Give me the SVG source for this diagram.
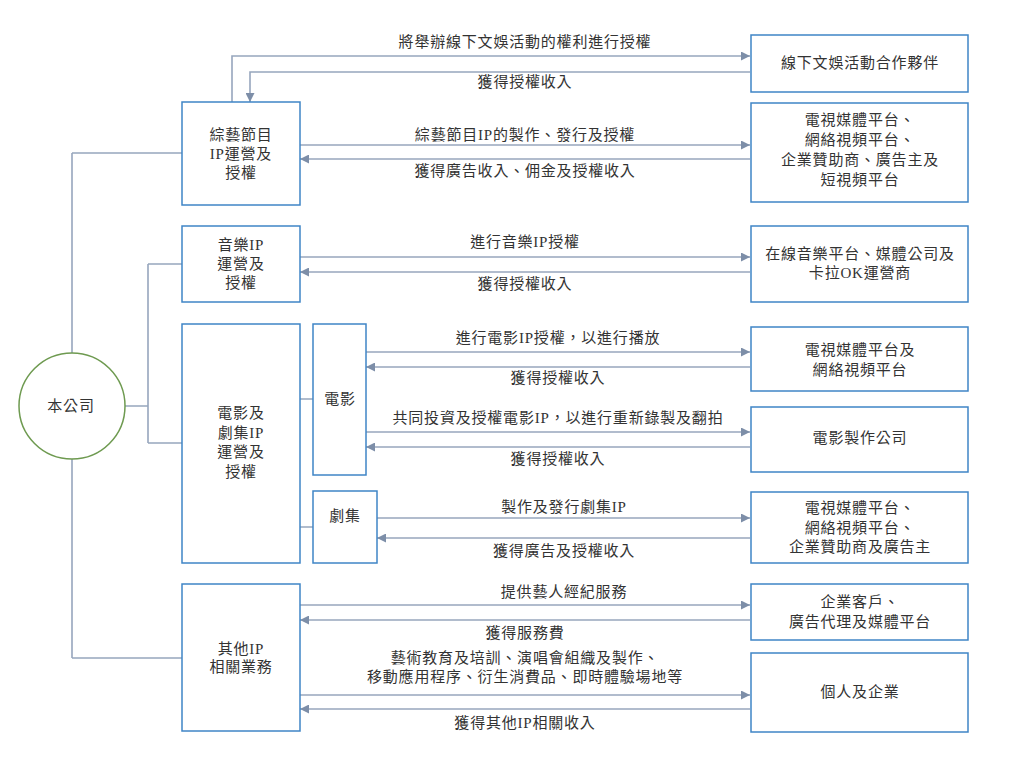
<svg xmlns="http://www.w3.org/2000/svg" width="1023" height="772" viewBox="0 0 1023 772">
<style>
.box{fill:#fff;stroke:#3f85c6;stroke-width:1.5}
.ln{fill:none;stroke:#97a6bd;stroke-width:1.6}
.ar{fill:none;stroke:#97a6bd;stroke-width:1.6;marker-end:url(#ah)}
text{font-family:"Liberation Serif","Noto Sans CJK TC",serif;font-size:15px;fill:#333;text-anchor:middle;dominant-baseline:central;letter-spacing:0.8px}
</style>
<defs>
<marker id="ah" viewBox="0 0 10 10" refX="10" refY="5" markerWidth="9" markerHeight="9" markerUnits="userSpaceOnUse" orient="auto">
<path d="M0,0 L10,5 L0,10 z" fill="#7d8ea8"/>
</marker>
</defs>
<rect width="1023" height="772" fill="#fff"/>

<g id="connectors">
<path class="ln" d="M72,153 V353 M72,459 V658 M72,153 H182 M72,658 H182 M125,406 H148 M148,264 V443 M148,264 H182 M148,443 H182 M300,399 H313 M300,527 H313"/>
<path class="ar" d="M232,102 V56 H750"/>
<path class="ar" d="M750,72 H250 V102"/>
<path class="ar" d="M300,145 H750"/>
<path class="ar" d="M750,159 H300"/>
<path class="ar" d="M300,257 H750"/>
<path class="ar" d="M750,272 H300"/>
<path class="ar" d="M366,352 H750"/>
<path class="ar" d="M750,367 H366"/>
<path class="ar" d="M366,432 H750"/>
<path class="ar" d="M750,447 H366"/>
<path class="ar" d="M377,518 H750"/>
<path class="ar" d="M750,538 H377"/>
<path class="ar" d="M300,605 H750"/>
<path class="ar" d="M750,620 H300"/>
<path class="ar" d="M300,695 H750"/>
<path class="ar" d="M750,709 H300"/>
<text x="525" y="42">將舉辦線下文娛活動的權利進行授權</text>
<text x="525" y="82">獲得授權收入</text>
<text x="525" y="135">綜藝節目IP的製作、發行及授權</text>
<text x="525" y="171">獲得廣告收入、佣金及授權收入</text>
<text x="525" y="242">進行音樂IP授權</text>
<text x="525" y="284">獲得授權收入</text>
<text x="558" y="338">進行電影IP授權，以進行播放</text>
<text x="558" y="378">獲得授權收入</text>
<text x="558" y="418">共同投資及授權電影IP，以進行重新錄製及翻拍</text>
<text x="558" y="459">獲得授權收入</text>
<text x="564" y="507">製作及發行劇集IP</text>
<text x="564" y="551">獲得廣告及授權收入</text>
<text x="564" y="592">提供藝人經紀服務</text>
<text x="525" y="633">獲得服務費</text>
<text x="525" y="658">藝術教育及培訓、演唱會組織及製作、</text>
<text x="525" y="677">移動應用程序、衍生消費品、即時體驗場地等</text>
<text x="525" y="723">獲得其他IP相關收入</text>
</g>

<g id="company">
<circle cx="72" cy="406" r="53" fill="#fff" stroke="#6e9a50" stroke-width="1.5"/>
<text x="71" y="406">本公司</text>
</g>

<g id="variety">
<rect class="box" x="182" y="102" width="118" height="103"/>
<text x="241" y="135">綜藝節目</text>
<text x="241" y="154">IP運營及</text>
<text x="241" y="173">授權</text>
</g>

<g id="music">
<rect class="box" x="182" y="226" width="118" height="76"/>
<text x="241" y="245">音樂IP</text>
<text x="241" y="264">運營及</text>
<text x="241" y="283">授權</text>
</g>

<g id="filmdrama">
<rect class="box" x="182" y="324" width="118" height="239"/>
<text x="241" y="413">電影及</text>
<text x="241" y="433">劇集IP</text>
<text x="241" y="452">運營及</text>
<text x="241" y="472">授權</text>
</g>

<g id="film">
<rect class="box" x="313" y="324" width="53" height="151"/>
<text x="340" y="399">電影</text>
</g>

<g id="drama">
<rect class="box" x="313" y="491" width="64" height="72"/>
<text x="345" y="516">劇集</text>
</g>

<g id="other">
<rect class="box" x="182" y="584" width="118" height="147"/>
<text x="241" y="649">其他IP</text>
<text x="241" y="667">相關業務</text>
</g>

<g id="offline-partner">
<rect class="box" x="751" y="35" width="217" height="57"/>
<text x="860" y="63">線下文娛活動合作夥伴</text>
</g>

<g id="variety-clients">
<rect class="box" x="751" y="103" width="217" height="99"/>
<text x="860" y="120">電視媒體平台、</text>
<text x="860" y="140">網絡視頻平台、</text>
<text x="860" y="160">企業贊助商、廣告主及</text>
<text x="860" y="180">短視頻平台</text>
</g>

<g id="music-clients">
<rect class="box" x="751" y="226" width="217" height="76"/>
<text x="860" y="254">在線音樂平台、媒體公司及</text>
<text x="860" y="273">卡拉OK運營商</text>
</g>

<g id="film-platforms">
<rect class="box" x="751" y="327" width="217" height="64"/>
<text x="860" y="350">電視媒體平台及</text>
<text x="860" y="370">網絡視頻平台</text>
</g>

<g id="film-producers">
<rect class="box" x="751" y="407" width="217" height="65"/>
<text x="860" y="438">電影製作公司</text>
</g>

<g id="drama-clients">
<rect class="box" x="751" y="492" width="217" height="71"/>
<text x="860" y="508">電視媒體平台、</text>
<text x="860" y="528">網絡視頻平台、</text>
<text x="860" y="547">企業贊助商及廣告主</text>
</g>

<g id="corporate-clients">
<rect class="box" x="751" y="584" width="217" height="56"/>
<text x="860" y="602">企業客戶、</text>
<text x="860" y="622">廣告代理及媒體平台</text>
</g>

<g id="individuals">
<rect class="box" x="751" y="653" width="217" height="79"/>
<text x="860" y="692">個人及企業</text>
</g>
</svg>
